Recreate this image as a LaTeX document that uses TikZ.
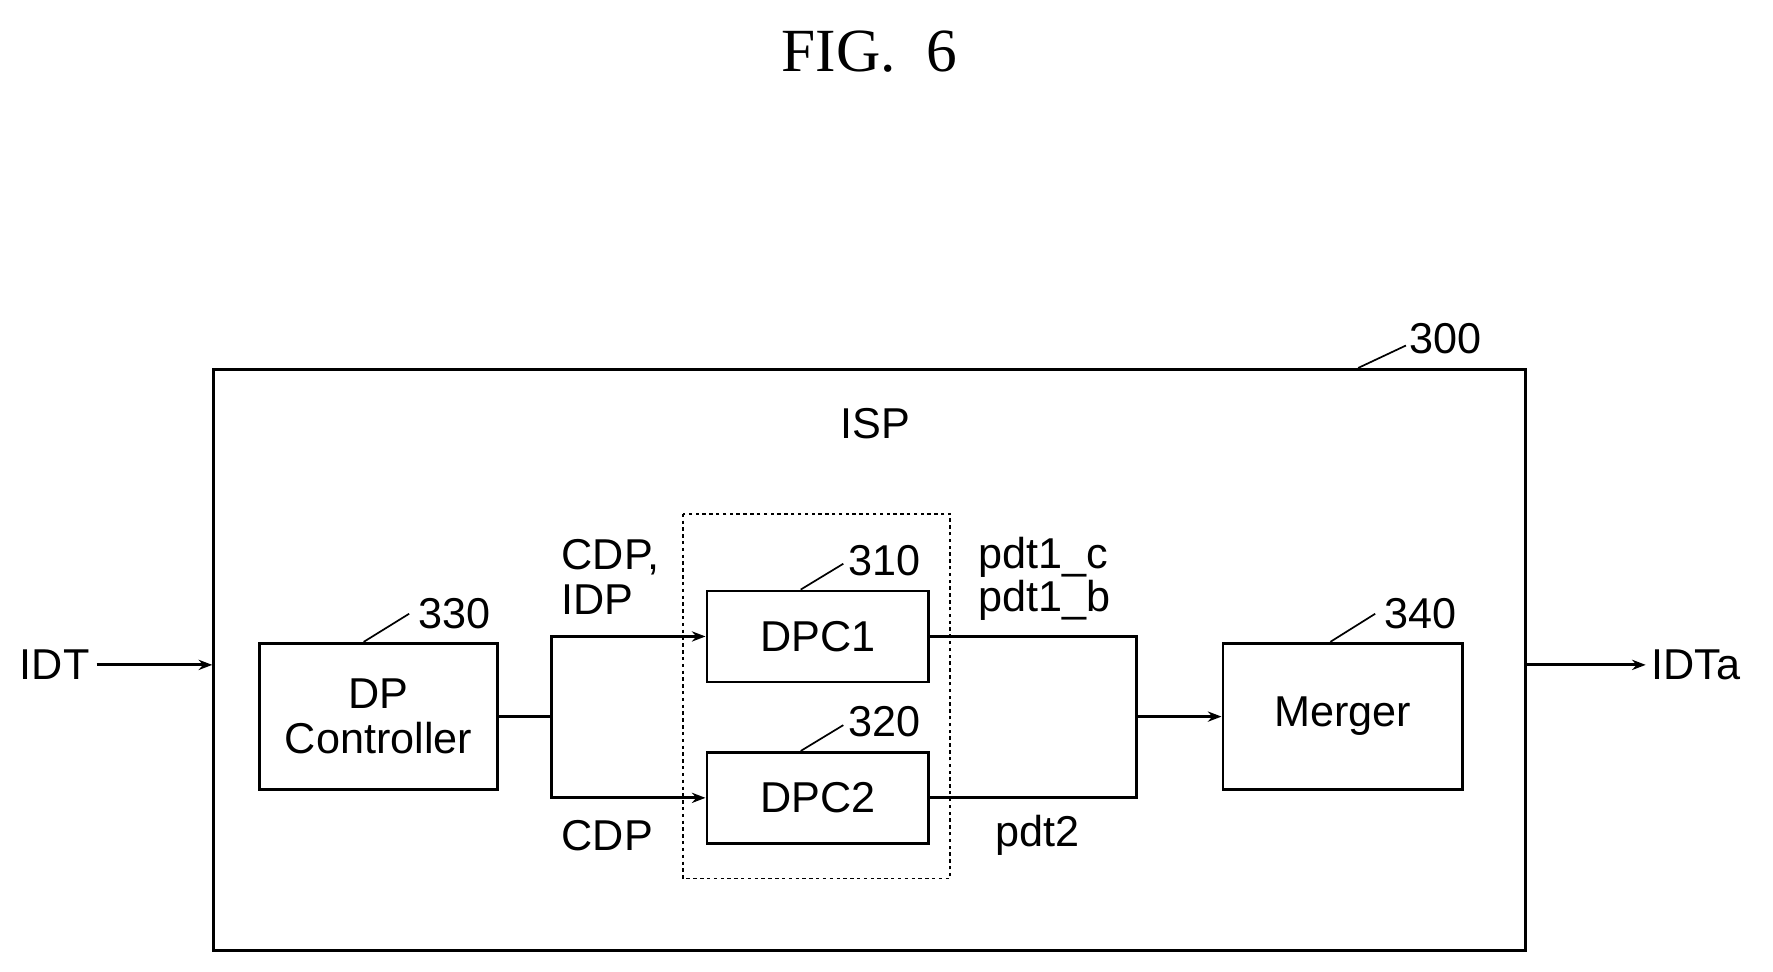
\documentclass[tikz,border=0pt]{standalone}
\usepackage{fontspec}
\setmainfont{Liberation Sans}
\usetikzlibrary{arrows.meta}
\tikzset{every picture/.style={line width=2.5pt}}
\tikzset{blk/.style={draw,inner sep=0pt,align=center,font=\fontsize{38}{40}\selectfont},
  lbl/.style={inner sep=0pt,font=\fontsize{38}{40}\selectfont},
  lead/.style={line width=1.5pt},
  sig/.style={-{Stealth[length=12pt,width=9pt]}}}
\begin{document}
\begin{tikzpicture}[x=1pt,y=1pt,yscale=-1,xscale=1]
\useasboundingbox (0,0) rectangle (1560,855);

% Title
\node (fig) at (765,45) {\fontspec{Liberation Serif}\fontsize{54}{58}\selectfont FIG.\ \ 6};

% Outer block
\node [blk,minimum width=1154pt,minimum height=511pt] (isp) at (765,580.5) {};
\node [lbl] (n300) at (1272,298) {300};
\draw [lead] (isp.north -| 1195,0) -- (1237,304);
\node [lbl] (isptxt) at (770,373) {ISP};

% Dashed group
\draw [dashed,line width=1.5pt] (601,452) rectangle (836,773);

% Blocks
\node [blk,minimum width=210pt,minimum height=129pt] (dpc) at (333,630.5) {DP\\Controller};
\node [blk,minimum width=195pt,minimum height=80pt] (dpc1) at (719.5,560) {DPC1};
\node [blk,minimum width=195pt,minimum height=80pt] (dpc2) at (719.5,702) {DPC2};
\node [blk,minimum width=211pt,minimum height=129pt] (mrg) at (1181.5,630.5) {Merger};

% Reference numbers
\node [lbl] (n330) at (400,540) {330};
\draw [lead] (dpc.north) ++(-13,0) -- (360,540);
\node [lbl] (n310) at (778,493) {310};
\draw [lead] (dpc1.north) ++(-15,0) -- (742,496);
\node [lbl] (n320) at (778,635) {320};
\draw [lead] (dpc2.north) ++(-15,0) -- (742,638);
\node [lbl] (n340) at (1250,540) {340};
\draw [lead] (mrg.north) ++(-11,0) -- (1210,540);

% Signals
\coordinate (in) at (85,585);
\coordinate (out) at (1448,585);
\node [lbl,anchor=east] (idt) at (80,585) {IDT};
\draw [sig] (in) -- (in -| isp.west);
\node [lbl,anchor=west] (idta) at (1452,585) {IDTa};
\draw [sig] (out -| isp.east) -- (out);

\coordinate (split) at (485,630.5);
\coordinate (join) at (1000,630.5);
\draw (dpc.east) -- (split);
\draw [sig] (split) |- (dpc1.west);
\draw [sig] (split) |- (dpc2.west);
\draw (dpc1.east) -| (join) |- (dpc2.east);
\draw [sig] (join) -- (mrg.west);

% Signal labels
\node [lbl,anchor=west] (cdpidp) at (493,490) {CDP,};
\node [lbl,anchor=west] (idp) at (493,528) {IDP};
\node [lbl,anchor=west] (cdp) at (493,735) {CDP};
\node [lbl,anchor=west] (p1c) at (860,490) {pdt1\_c};
\node [lbl,anchor=west] (p1b) at (860,528) {pdt1\_b};
\node [lbl,anchor=west] (p2) at (875,735) {pdt2};
\end{tikzpicture}
\end{document}
